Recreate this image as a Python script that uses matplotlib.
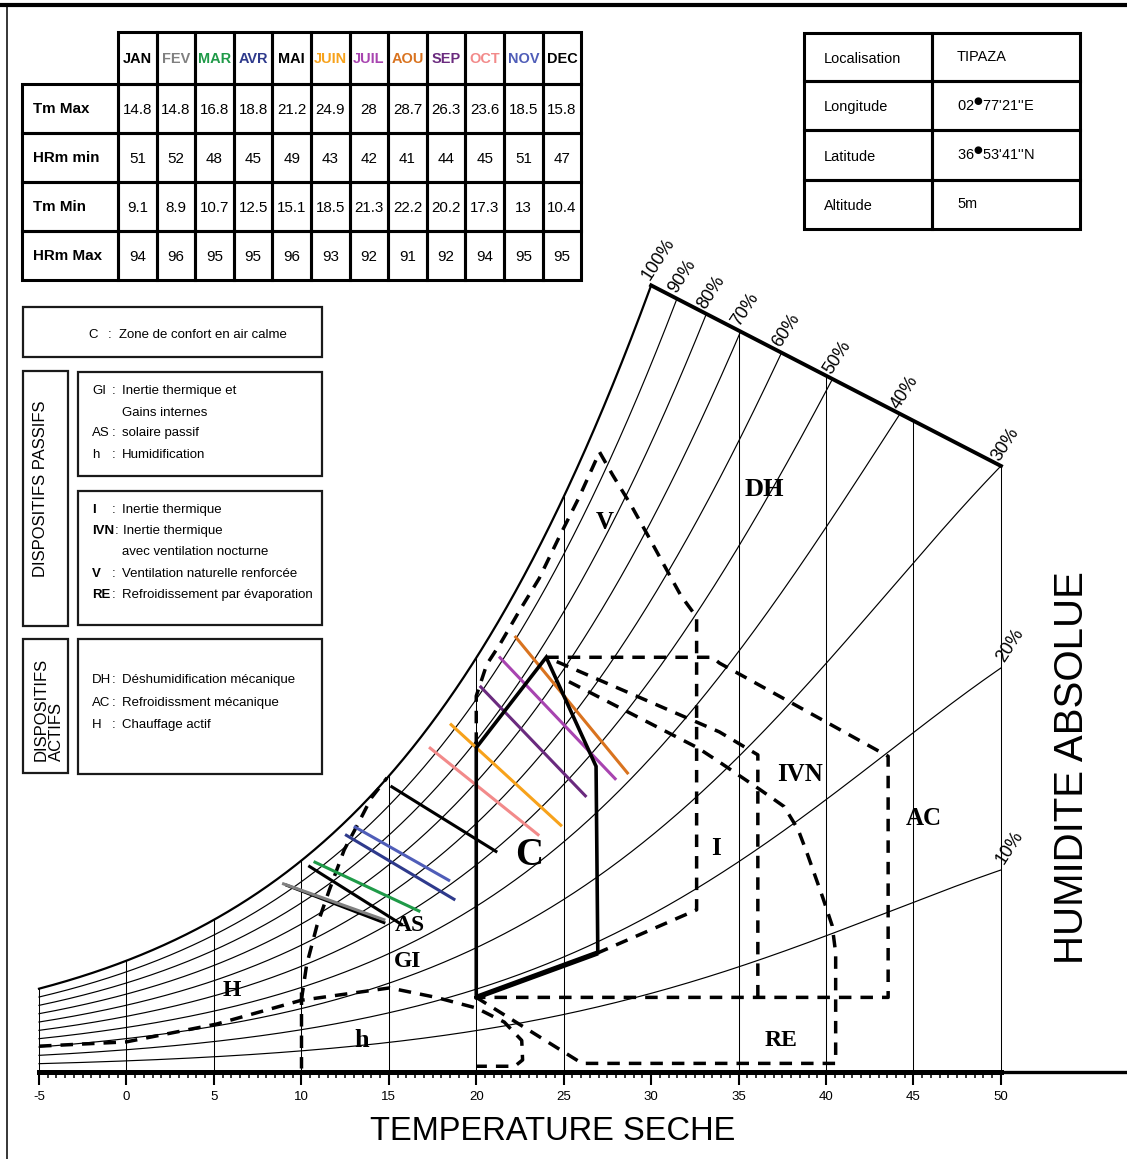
import numpy as np
import matplotlib
matplotlib.use("Agg")
import matplotlib.pyplot as plt
from matplotlib import font_manager as fm
from matplotlib.patches import Rectangle

# ---------------------------------------------------------------- data
months = ["JAN", "FEV", "MAR", "AVR", "MAI", "JUIN", "JUIL", "AOU", "SEP", "OCT", "NOV", "DEC"]
month_colors = ["#000000", "#808080", "#1f9a48", "#2e3a8c", "#000000", "#f7a21b",
                "#a844b0", "#d9731f", "#6a2a7e", "#f28a8a", "#4f5db8", "#000000"]
tm_max = [14.8, 14.8, 16.8, 18.8, 21.2, 24.9, 28, 28.7, 26.3, 23.6, 18.5, 15.8]
hr_min = [51, 52, 48, 45, 49, 43, 42, 41, 44, 45, 51, 47]
tm_min = [9.1, 8.9, 10.7, 12.5, 15.1, 18.5, 21.3, 22.2, 20.2, 17.3, 13, 10.4]
hr_max = [94, 96, 95, 95, 96, 93, 92, 91, 92, 94, 95, 95]
row_labels = ["Tm Max", "HRm min", "Tm Min", "HRm Max"]

site_keys = ["Localisation", "Longitude", "Latitude", "Altitude"]
site_vals = ["TIPAZA", "02$^{●}$77'21''E", "36$^{●}$53'41''N", "5m"]

rh_levels = [100, 90, 80, 70, 60, 50, 40, 30, 20, 10]
t_ticks = list(range(-5, 51, 5))
t_grid = [-5, 0, 5, 10, 15, 20, 25, 35, 40, 45, 50]

# Givoni zones, (dry temperature degC, absolute humidity g/kg)
comfort_T = [20.0, 20.0, 24.0, 26.85, 26.95, 20.0]
comfort_w = [2.6, 11.3, 14.45, 10.65, 4.15, 2.6]
vent_T = [20.0, 20.0, 20.6, 21.35, 22.45, 23.6, 24.75, 25.9, 27.05, 27.8, 28.85,
          29.9, 30.75, 31.7, 32.6, 32.6, 26.95]
vent_w = [11.4, 13.1, 14.2, 14.9, 16.05, 17.2, 18.65, 20.05, 21.6, 20.8, 19.75,
          18.6, 17.65, 16.6, 15.85, 5.65, 4.15]
ac_T = [24.0, 33.5, 33.9, 43.55, 43.55, 20.0]
ac_w = [14.45, 14.45, 14.25, 11.0, 2.6, 2.6]
ivn_T = [24.6, 33.9, 36.1, 36.1, 36.1]
ivn_w = [14.3, 11.85, 11.05, 10.75, 2.6]
re_T = [25.3, 32.65, 33.9, 36.2, 37.6, 38.4, 38.9, 39.8, 40.35, 40.55, 40.55, 26.05, 20.0]
re_w = [13.6, 11.3, 10.8, 9.85, 9.25, 8.45, 7.65, 6.1, 5.1, 4.15, 0.3, 0.3, 2.6]
hum_T = [-5.0, 0.0, 5.15, 10.0, 15.05, 17.7, 20.0, 21.6, 22.6, 22.65, 22.2, 20.0]
hum_w = [0.9, 1.05, 1.67, 2.5, 2.93, 2.6, 2.23, 1.74, 1.1, 0.42, 0.2, 0.2]
gi_T = [10.0, 10.3, 10.9, 11.6, 12.45, 13.2, 14.0, 14.9]
gi_w = [2.5, 3.73, 5.12, 6.34, 7.74, 8.6, 9.55, 10.25]
t10_T = [10.0, 10.0]
t10_w = [2.8, 0.15]

zone_names = ["DH", "V", "C", "I", "IVN", "AC", "AS", "GI", "H", "h", "RE"]

legend_comfort = ("C", "Zone de confort en air calme")
passive_1 = [("GI", "Inertie thermique et"), ("", "Gains internes"),
             ("AS", "solaire passif"), ("h", "Humidification")]
passive_2 = [("I", "Inertie thermique"), ("IVN", "Inertie thermique"),
             ("", "avec ventilation nocturne"), ("V", "Ventilation naturelle renforcée"),
             ("RE", "Refroidissement par évaporation")]
active = [("DH", "Déshumidification mécanique"), ("AC", "Refroidissment mécanique"),
          ("H", "Chauffage actif")]

# ---------------------------------------------------------------- fonts
_installed = {f.name for f in fm.fontManager.ttflist}
SANS = "Liberation Sans" if "Liberation Sans" in _installed else "DejaVu Sans"
SERIF = "Liberation Serif" if "Liberation Serif" in _installed else "DejaVu Serif"
if "Liberation Sans Narrow" in _installed:
    NARROW, NS = "Liberation Sans Narrow", 1.0
else:
    NARROW, NS = SANS, 0.87


# ---------------------------------------------------------------- chart geometry
def w_sat(T):
    d = np.asarray(T, dtype=float) - 15.0
    return 10.31 * np.exp(0.0675 * d - 1.03e-5 * d ** 3)


def w_top(T):
    w1 = w_sat(30.0)
    w2 = 0.30 * w_sat(50.0)
    return w1 + (w2 - w1) * (np.asarray(T, dtype=float) - 30.0) / 20.0


W, H = 1127, 1159
KX, KY = 17.49, 28.7          # px per degC, px per g/kg
X0PX, Y0PX = 39, 1072         # pixel of T=-5, w=0

fig = plt.figure(figsize=(W / 100, H / 100), dpi=100)
fig.patch.set_facecolor("white")
ax = fig.add_axes([0, 0, 1, 1])
xmin = -5 - X0PX / KX
ymin = -(H - Y0PX) / KY
ax.set_xlim(xmin, xmin + W / KX)
ax.set_ylim(ymin, ymin + H / KY)
ax.patch.set_alpha(0)
for s in ["top", "right", "left"]:
    ax.spines[s].set_visible(False)
ax.spines["bottom"].set_position(("data", 0))
ax.spines["bottom"].set_bounds(-5, 50)
ax.spines["bottom"].set_linewidth(3.6)
ax.set_yticks([])
ax.set_xticks(t_ticks)
ax.set_xticklabels([str(t) for t in t_ticks])
ax.set_xticks(np.arange(-5, 50.01, 0.5), minor=True)
ax.tick_params(axis="x", which="major", direction="out", length=9.4, width=1.5,
               labelsize=11 * NS, pad=4.0)
ax.tick_params(axis="x", which="minor", direction="out", length=4.3, width=1.1)
for lbl in ax.get_xticklabels():
    lbl.set_family(NARROW)
ax.plot([50, xmin + W / KX], [0, 0], color="k", lw=2.4, solid_capstyle="butt")

# relative-humidity curves
Tg = np.linspace(-5, 50, 5501)
for r in rh_levels:
    wc = r / 100.0 * w_sat(Tg)
    over = (Tg >= 30) & (wc >= w_top(Tg) - 1e-9)
    end = Tg[np.argmax(over)] if over.any() else 50.0
    m = Tg <= end + 1e-9
    ax.plot(Tg[m], wc[m], color="k", lw=1.6 if r == 100 else 0.85, zorder=2)
    we = r / 100.0 * w_sat(end)
    off = (1.5, 1.5) if end < 49.9 or r == 30 else (4.5, 2.0)
    ax.annotate(f"{r}%", (end, we), xytext=off, textcoords="offset points",
                rotation=57, rotation_mode="anchor", ha="left", va="bottom",
                fontsize=13, family=SANS)

# vertical temperature lines
for t in t_grid:
    top = w_sat(t) if t <= 30 else w_top(t)
    ax.plot([t, t], [0, top], color="k", lw=0.75, zorder=2)

# saturation / limit line
tb = np.array([30.0, 50.0])
ax.plot(tb, w_top(tb), color="k", lw=2.8, solid_capstyle="projecting", zorder=3)

# dashed zones
dash = dict(color="k", lw=2.5, linestyle=(0, (3.6, 2.6)), zorder=4)
for zt, zw in [(vent_T, vent_w), (ac_T, ac_w), (ivn_T, ivn_w), (re_T, re_w),
               (hum_T, hum_w), (gi_T, gi_w), (t10_T, t10_w)]:
    ax.plot(zt, zw, **dash)

# monthly lines
for i in range(12):
    ax.plot([tm_min[i], tm_max[i]],
            [hr_max[i] / 100 * w_sat(tm_min[i]), hr_min[i] / 100 * w_sat(tm_max[i])],
            color=month_colors[i], lw=2.2, solid_capstyle="butt", zorder=5)

# comfort zone
ax.plot(comfort_T, comfort_w, color="k", lw=2.6, solid_joinstyle="miter", zorder=6)
ax.plot([comfort_T[-2], comfort_T[-1]], [comfort_w[-2], comfort_w[-1]], color="k",
        lw=3.8, solid_capstyle="butt", zorder=6)

# zone labels
zl_T = [36.5, 27.35, 23.05, 33.7, 38.5, 45.6, 16.2, 16.05, 6.05, 13.45, 37.45]
zl_w = [20.3, 19.15, 7.55, 7.8, 10.35, 8.85, 5.1, 3.85, 2.85, 1.1, 1.1]
zl_s = [19, 18, 28, 18, 18, 18, 17, 17, 17, 19, 17]
for name, t, w, s in zip(zone_names, zl_T, zl_w, zl_s):
    ax.text(t, w, name, family=SERIF, weight="bold", fontsize=s,
            ha="center", va="center", zorder=7)

# ---------------------------------------------------------------- layout layer
lay = fig.add_axes([0, 0, 1, 1])
lay.set_xlim(0, W)
lay.set_ylim(H, 0)
lay.axis("off")
lay.patch.set_alpha(0)

lay.plot([0, W], [5, 5], color="k", lw=3.0)
lay.plot([7, 7], [5, H], color="k", lw=1.1)

# climate table
cx0, cw, lx0 = 118.0, 38.6, 22.0
redges = [32.0, 83.5, 132.5, 181.5, 230.5, 279.5]
tlw = 2.2
for i, mname in enumerate(months):
    lay.add_patch(Rectangle((cx0 + i * cw, redges[0]), cw, redges[1] - redges[0],
                            fill=False, lw=tlw, ec="k"))
    lay.text(cx0 + (i + 0.5) * cw, (redges[0] + redges[1]) / 2 + 1, mname,
             ha="center", va="center", fontsize=12 * NS, family=NARROW,
             weight="bold", color=month_colors[i])
rows = [tm_max, hr_min, tm_min, hr_max]
for j, (rl, vals) in enumerate(zip(row_labels, rows)):
    y0, y1 = redges[j + 1], redges[j + 2]
    lay.add_patch(Rectangle((lx0, y0), cx0 - lx0, y1 - y0, fill=False, lw=tlw, ec="k"))
    lay.text(33, (y0 + y1) / 2 + 1, rl, ha="left", va="center", fontsize=12.5 * NS,
             family=NARROW, weight="bold")
    for i, v in enumerate(vals):
        lay.add_patch(Rectangle((cx0 + i * cw, y0), cw, y1 - y0, fill=False, lw=tlw, ec="k"))
        lay.text(cx0 + (i + 0.5) * cw, (y0 + y1) / 2 + 2, f"{v:g}", ha="center",
                 va="center", fontsize=12.5 * NS, family=NARROW)

# site table
sx = [804.0, 931.5, 1079.5]
sy = [32.5, 81.0, 130.0, 179.5, 229.0]
for j in range(4):
    for k in range(2):
        lay.add_patch(Rectangle((sx[k], sy[j]), sx[k + 1] - sx[k], sy[j + 1] - sy[j],
                                fill=False, lw=tlw, ec="k"))
    yc = (sy[j] + sy[j + 1]) / 2 + 2
    lay.text(824, yc, site_keys[j], ha="left", va="center", fontsize=12 * NS, family=NARROW)
    lay.text(957, yc - 2, site_vals[j], ha="left", va="center", fontsize=12 * NS,
             family=NARROW)

# legend boxes
blw, bec = 1.6, "#1a1a1a"
for (x0, y0, x1, y1) in [(22.7, 307.3, 322.3, 356.7), (22.7, 370.7, 67.7, 626.0),
                         (78.3, 371.7, 322.3, 476.0), (78.3, 490.7, 322.3, 625.0),
                         (22.7, 639.3, 67.7, 773.3), (78.3, 639.3, 322.3, 774.0)]:
    lay.add_patch(Rectangle((x0, y0), x1 - x0, y1 - y0, fill=False, lw=blw, ec=bec))

lfs = 11.0 * NS
lay.text(88, 335, legend_comfort[0], ha="left", va="center", fontsize=lfs, family=NARROW)
lay.text(108, 335, ":", ha="left", va="center", fontsize=lfs, family=NARROW)
lay.text(119, 335, legend_comfort[1], ha="left", va="center", fontsize=lfs, family=NARROW)


def legend_block(entries, ys, bold):
    for (k, d), y in zip(entries, ys):
        if k:
            lay.text(92, y, k, ha="left", va="center", fontsize=lfs, family=NARROW,
                     weight="bold" if bold else "normal")
            lay.text(112 if len(k) < 3 else 115, y, ":", ha="left", va="center",
                     fontsize=lfs, family=NARROW)
            lay.text(122 if len(k) < 3 else 123, y, d, ha="left", va="center",
                     fontsize=lfs, family=NARROW)
        else:
            lay.text(122, y, d, ha="left", va="center", fontsize=lfs, family=NARROW)


legend_block(passive_1, [390.7, 412.7, 433.3, 455.0], False)
legend_block(passive_2, [510.0, 531.0, 551.7, 574.0, 595.0], True)
legend_block(active, [680.0, 702.7, 725.0], False)

lay.text(41, 489, "DISPOSITIFS PASSIFS", rotation=90, ha="center", va="center",
         fontsize=12, family=SANS)
lay.text(49, 761, "DISPOSITIFS\nACTIFS", rotation=90, ha="center", va="bottom",
         multialignment="left", fontsize=12, family=SANS, linespacing=1.0)

# axis titles
lay.text(553, 1132, "TEMPERATURE SECHE", ha="center", va="center",
         fontsize=27 * NS, family=NARROW)
lay.text(1072, 768, "HUMIDITE ABSOLUE", rotation=90, ha="center", va="center",
         fontsize=29, family=SANS)

fig.savefig("out.png", dpi=100, facecolor="white")
